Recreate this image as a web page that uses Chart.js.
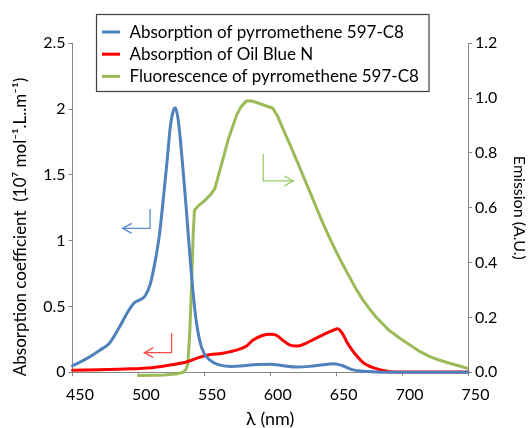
<!DOCTYPE html>
<html>
<head>
<meta charset="utf-8">
<script src="https://cdn.jsdelivr.net/npm/chart.js@4/dist/chart.umd.min.js"></script>
<style>
  html, body { margin: 0; padding: 0; background: #fff; }
  #wrap { width: 531px; height: 428px; position: relative; }
</style>
</head>
<body>
<div id="wrap"><canvas id="spectra" width="531" height="428"></canvas></div>
<script>
// absorption of pyrromethene 597-C8 (left axis)
const pmWl = [450, 460, 465, 471, 478, 486, 492, 497, 501, 505, 509, 513, 516, 519, 522, 524, 526, 528, 530, 532, 534, 536, 538, 540, 542, 544, 547, 550, 554, 560, 570, 580, 590, 600, 610, 620, 630, 640, 648, 655, 662, 670, 680, 690, 750]
const pmAbs = [0.05, 0.1, 0.13, 0.17, 0.22, 0.35, 0.46, 0.53, 0.55, 0.58, 0.67, 0.86, 1.05, 1.33, 1.63, 1.85, 1.97, 2.01, 1.93, 1.75, 1.52, 1.28, 1.02, 0.77, 0.55, 0.38, 0.22, 0.14, 0.095, 0.06, 0.045, 0.05, 0.06, 0.062, 0.05, 0.04, 0.045, 0.058, 0.065, 0.05, 0.02, 0.008, 0.003, 0, 0]

// absorption of Oil Blue N (left axis)
const obWl = [450, 470, 490, 510, 524, 537, 545, 552, 564, 575, 582, 587, 594, 600, 604, 610, 615, 621, 627, 633, 641, 648, 651, 655, 658, 662, 666, 671, 676, 683, 691, 700, 750]
const obAbs = [0.015, 0.02, 0.025, 0.035, 0.055, 0.08, 0.11, 0.13, 0.145, 0.17, 0.2, 0.245, 0.28, 0.29, 0.285, 0.24, 0.207, 0.2, 0.22, 0.25, 0.29, 0.32, 0.33, 0.29, 0.233, 0.17, 0.12, 0.07, 0.043, 0.02, 0.005, 0.003, 0.003]

// fluorescence of pyrromethene 597-C8 (right axis)
const flWl = [500, 520, 530, 534, 536, 537.5, 539, 540.5, 541.5, 542.5, 545, 550, 555, 558, 562, 568, 574.5, 578, 582, 586, 589, 595, 602, 606, 610, 615, 620, 625, 630, 635, 640, 645, 650, 655, 660, 665, 670, 675, 680, 685, 690, 698, 706, 713, 721, 728, 736, 743, 749]
const flEm = [-0.012, -0.01, -0.005, 0, 0.01, 0.03, 0.15, 0.34, 0.5, 0.59, 0.605, 0.625, 0.65, 0.67, 0.74, 0.847, 0.938, 0.97, 0.99, 0.99, 0.985, 0.975, 0.963, 0.93, 0.884, 0.83, 0.774, 0.716, 0.659, 0.6, 0.543, 0.49, 0.44, 0.393, 0.349, 0.305, 0.266, 0.233, 0.203, 0.178, 0.154, 0.125, 0.1, 0.077, 0.057, 0.045, 0.033, 0.024, 0.015]

const seriesNames = ['Absorption of pyrromethene 597-C8', 'Absorption of Oil Blue N', 'Fluorescence of pyrromethene 597-C8']
const wlTicks = [450, 500, 550, 600, 650, 700, 750]
const absTicks = [0, 0.5, 1, 1.5, 2, 2.5]
const emTicks = [0, 0.2, 0.4, 0.6, 0.8, 1.0, 1.2]
const absTitle = 'Absorption coefficient  (10⁷ mol⁻¹.L..m⁻¹)'

const toPoints = (xs, ys) => xs.map((x, i) => ({ x: x, y: ys[i] }))

const FONT = 'Lato, "Open Sans", sans-serif'
const AXIS = '#868686'

// little L-shaped arrows pointing at each curve's axis
const arrowPlugin = {
    id: 'arrows',
    afterDatasetsDraw(chart) {
        const ctx = chart.ctx
        const sx = chart.scales.x
        const arrows = [
            { axis: 'y', color: '#5a8ccf', pts: [[508.8, 1.24], [508.8, 1.094], [488.1, 1.094]] },
            { axis: 'y', color: '#ff4d4d', pts: [[525.2, 0.296], [525.2, 0.149], [504.5, 0.149]] },
            { axis: 'y2', color: '#97cf6a', pts: [[594.7, 0.796], [594.7, 0.698], [617.5, 0.698]] }
        ]
        ctx.save()
        arrows.forEach(a => {
            const sy = chart.scales[a.axis]
            const p = a.pts.map(q => [sx.getPixelForValue(q[0]), sy.getPixelForValue(q[1])])
            ctx.strokeStyle = a.color
            ctx.lineWidth = 1.3
            ctx.beginPath()
            ctx.moveTo(p[0][0], p[0][1])
            ctx.lineTo(p[1][0], p[1][1])
            ctx.lineTo(p[2][0], p[2][1])
            ctx.stroke()
            const dir = p[2][0] > p[1][0] ? 1 : -1
            ctx.beginPath()
            ctx.moveTo(p[2][0] - dir * 9, p[2][1] - 5)
            ctx.lineTo(p[2][0], p[2][1])
            ctx.lineTo(p[2][0] - dir * 9, p[2][1] + 5)
            ctx.stroke()
        })
        ctx.restore()
    }
}

// boxed legend over the top of the plot + the left axis title
const boxLegend = {
    id: 'boxLegend',
    afterDraw(chart) {
        const ctx = chart.ctx
        ctx.save()
        ctx.fillStyle = '#fff'
        ctx.fillRect(96.5, 14.5, 332.5, 77)
        ctx.strokeStyle = '#404040'
        ctx.lineWidth = 1.2
        ctx.strokeRect(96.5, 14.5, 332.5, 77)
        ctx.font = '17px ' + FONT
        ctx.textBaseline = 'middle'
        chart.data.datasets.forEach((ds, i) => {
            const y = 32 + i * 22.2
            ctx.strokeStyle = ds.borderColor
            ctx.lineWidth = 3
            ctx.beginPath()
            ctx.moveTo(102, y)
            ctx.lineTo(120, y)
            ctx.stroke()
            ctx.fillStyle = '#000'
            ctx.fillText(ds.label, 129.5, y + 0.5)
        })

        ctx.translate(21, 227)
        ctx.rotate(-Math.PI / 2)
        ctx.textAlign = 'center'
        ctx.fillStyle = '#000'
        ctx.fillText(absTitle, 0, 0)
        ctx.restore()
    }
}

new Chart(document.getElementById('spectra'), {
    type: 'line',
    data: {
        datasets: [
            {
                label: seriesNames[0],
                data: toPoints(pmWl, pmAbs),
                borderColor: '#4f81bd',
                yAxisID: 'y',
                cubicInterpolationMode: 'monotone'
            },
            {
                label: seriesNames[1],
                data: toPoints(obWl, obAbs),
                borderColor: '#ff0000',
                yAxisID: 'y',
                cubicInterpolationMode: 'monotone'
            },
            {
                label: seriesNames[2],
                data: toPoints(flWl, flEm),
                borderColor: '#9bbb59',
                yAxisID: 'y2',
                tension: 0
            }
        ]
    },
    options: {
        responsive: false,
        animation: false,
        layout: { padding: { top: 43.3, left: 0, right: 0, bottom: 0 } },
        elements: {
            point: { radius: 0 },
            line: { borderWidth: 3, fill: false, borderCapStyle: 'round', borderJoinStyle: 'round' }
        },
        datasets: { line: { clip: 6 } },
        plugins: {
            legend: { display: false },
            tooltip: { enabled: false }
        },
        scales: {
            x: {
                type: 'linear',
                position: 'bottom',
                min: 450,
                max: 750,
                afterFit: s => { s.height = 55.7 },
                afterBuildTicks: s => { s.ticks = wlTicks.map(v => ({ value: v })) },
                ticks: { font: { family: FONT, size: 16 }, color: '#000', padding: 8.5, labelOffset: 7.5, maxRotation: 0 },
                grid: { drawOnChartArea: false, drawTicks: true, tickLength: 4, color: AXIS },
                border: { color: AXIS, width: 1 },
                title: { display: true, text: 'λ (nm)', font: { family: FONT, size: 18 }, color: '#000', padding: { top: 0, bottom: -2 } }
            },
            y: {
                type: 'linear',
                position: 'left',
                min: 0,
                max: 2.5,
                afterFit: s => { s.width = 72.5 },
                afterBuildTicks: s => { s.ticks = absTicks.map(v => ({ value: v })) },
                ticks: { font: { family: FONT, size: 16 }, color: '#000', padding: 3, callback: v => String(v) },
                grid: { drawOnChartArea: false, drawTicks: true, tickLength: 4, color: AXIS },
                border: { color: AXIS, width: 1 },
                title: { display: false }
            },
            y2: {
                type: 'linear',
                position: 'right',
                min: 0,
                max: 1.2,
                afterFit: s => { s.width = 63 },
                afterBuildTicks: s => { s.ticks = emTicks.map(v => ({ value: v })) },
                ticks: { font: { family: FONT, size: 16 }, color: '#000', padding: 3, callback: v => v.toFixed(1) },
                grid: { drawOnChartArea: false, drawTicks: true, tickLength: 4, color: AXIS },
                border: { color: AXIS, width: 1 },
                title: { display: true, text: 'Emission (A.U.)', font: { family: FONT, size: 16 }, color: '#000', padding: { top: 2, bottom: 0 } }
            }
        }
    },
    plugins: [arrowPlugin, boxLegend]
})
</script>
</body>
</html>
